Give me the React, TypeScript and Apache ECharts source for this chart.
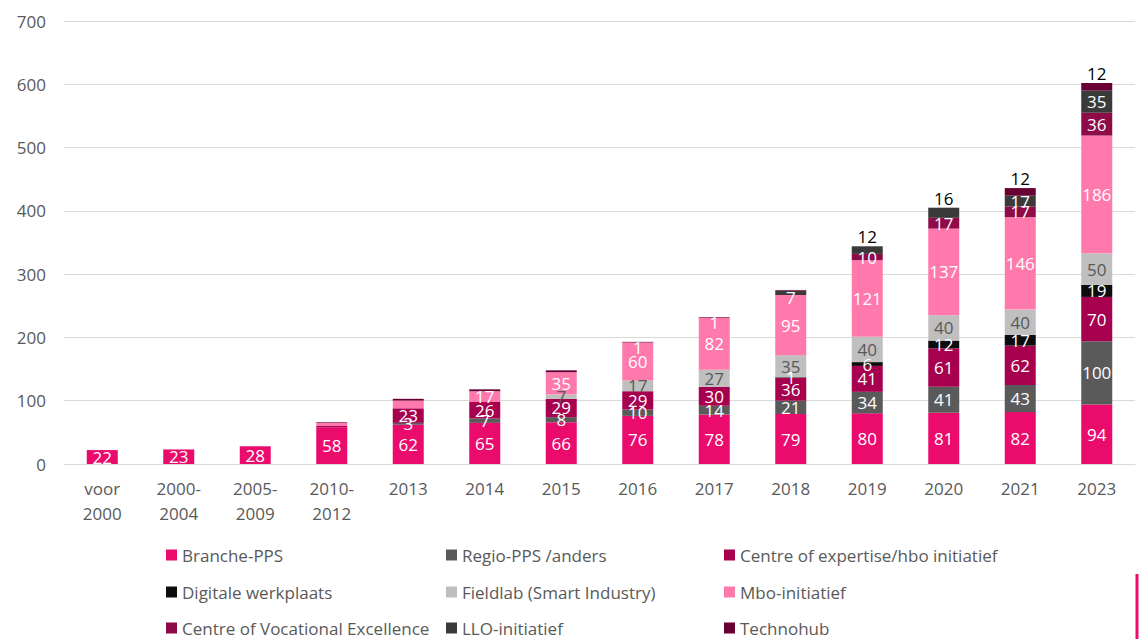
import React, { useEffect, useRef } from "react";
import * as echarts from "echarts";

const categories = ["voor\n2000", "2000-\n2004", "2005-\n2009", "2010-\n2012", "2013", "2014", "2015", "2016", "2017", "2018", "2019", "2020", "2021", "2023"];
const seriesNames = [
  "Branche-PPS",
  "Regio-PPS /anders",
  "Centre of expertise/hbo initiatief",
  "Digitale werkplaats",
  "Fieldlab (Smart Industry)",
  "Mbo-initiatief",
  "Centre of Vocational Excellence",
  "LLO-initiatief",
  "Technohub",
];
const branche = [22, 23, 28, 58, 62, 65, 66, 76, 78, 79, 80, 81, 82, 94];
const regio = [0, 0, 0, 0, 3, 7, 8, 10, 14, 21, 34, 41, 43, 100];
const expertise = [0, 0, 0, 2, 23, 26, 29, 29, 30, 36, 41, 61, 62, 70];
const digitale = [0, 0, 0, 0, 0, 0, 0, 0, 0, 1, 6, 12, 17, 19];
const fieldlab = [0, 0, 0, 0, 0, 0, 7, 17, 27, 35, 40, 40, 40, 50];
const mbo = [0, 0, 0, 5, 12, 17, 35, 60, 82, 95, 121, 137, 146, 186];
const cove = [0, 0, 0, 0, 1, 0, 0, 0, 0, 0, 10, 17, 17, 36];
const llo = [0, 0, 0, 0, 0, 0, 0, 0, 0, 7, 12, 16, 17, 35];
const technohub = [0, 0, 0, 1, 2, 3, 3, 1, 1, 1, 0, 0, 12, 12];
const yTicks = [0, 100, 200, 300, 400, 500, 600, 700];

const allValues = [branche, regio, expertise, digitale, fieldlab, mbo, cove, llo, technohub];
const colors = ["#EA0B6D", "#5A5A5A", "#A6004F", "#0D0D0D", "#BFBFBF", "#FF79AD", "#8E0B48", "#3A3A3A", "#680033"];
const labelColors = ["#fff", "#fff", "#fff", "#fff", "#595959", "#fff", "#fff", "#fff", "#fff"];
// cells whose label is not shown: [seriesIndex, categoryIndex]
const hiddenLabels = [[2, 3], [5, 3], [5, 4], [6, 4], [8, 3], [8, 4], [8, 5], [8, 6], [8, 9]];
// cells whose label sits above the bar in black
const topLabels = [[7, 10], [7, 11], [8, 12], [8, 13]];
// cells whose inside label is nudged down
const loweredLabels = [[8, 7], [8, 8], [7, 9]];
// legend grid: [seriesIndex, column, row]
const legendCells = [[0, 0, 0], [1, 1, 0], [2, 2, 0], [3, 0, 1], [4, 1, 1], [5, 2, 1], [6, 0, 2], [7, 1, 2], [8, 2, 2]];
const legendCols = [166, 446, 724];
const legendRows = [546, 583, 619];

function has(list: number[][], s: number, c: number) {
  return list.some((p) => p[0] === s && p[1] === c);
}

export default function App() {
  const ref = useRef<HTMLDivElement>(null);
  useEffect(() => {
    document.body.style.margin = "0";
    const chart = echarts.init(ref.current!, null, { renderer: "svg" });
    const font = "'Open Sans', Lato, sans-serif";
    const series = allValues.map((vals, s) => ({
      name: seriesNames[s],
      type: "bar",
      stack: "total",
      barWidth: 31,
      itemStyle: { color: colors[s] },
      data: vals.map((v, c) => {
        const top = has(topLabels, s, c);
        return {
          value: v,
          label: {
            show: v > 0 && !has(hiddenLabels, s, c),
            position: top ? "top" : "inside",
            color: top ? "#000" : labelColors[s],
            distance: 1,
            offset: has(loweredLabels, s, c) ? [0, 5] : [0, 0],
          },
        };
      }),
      label: { fontSize: 17, fontFamily: font, formatter: "{c}" },
    }));
    const legends = legendCells.map(([s, c, r]) => ({
      left: legendCols[c],
      top: legendRows[r],
      padding: 0,
      itemWidth: 11,
      itemHeight: 11,
      icon: "rect",
      selectedMode: false,
      data: [seriesNames[s]],
      textStyle: { fontSize: 17, fontFamily: font, color: "#595959", lineHeight: 18 },
    }));
    chart.setOption({
      animation: false,
      color: colors,
      grid: { left: 64, right: 5, top: 21, bottom: 175, containLabel: false },
      xAxis: {
        type: "category",
        data: categories,
        axisLine: { lineStyle: { color: "#D9D9D9", width: 1 } },
        axisTick: { show: false },
        axisLabel: { fontSize: 17, fontFamily: font, color: "#595959", lineHeight: 25, margin: 12, interval: 0 },
      },
      yAxis: {
        type: "value",
        min: yTicks[0],
        max: yTicks[yTicks.length - 1],
        interval: 100,
        axisLine: { show: false },
        axisTick: { show: false },
        splitLine: { lineStyle: { color: "#D9D9D9", width: 1 } },
        axisLabel: { fontSize: 17, fontFamily: font, color: "#595959", margin: 18 },
      },
      legend: legends,
      graphic: [
        { type: "line", shape: { x1: 1137, y1: 574, x2: 1137, y2: 639 }, style: { stroke: "#EA0B6D", lineWidth: 3 } },
      ],
      series,
    });
    return () => chart.dispose();
  }, []);
  return <div ref={ref} style={{ width: 1140, height: 639 }} />;
}
